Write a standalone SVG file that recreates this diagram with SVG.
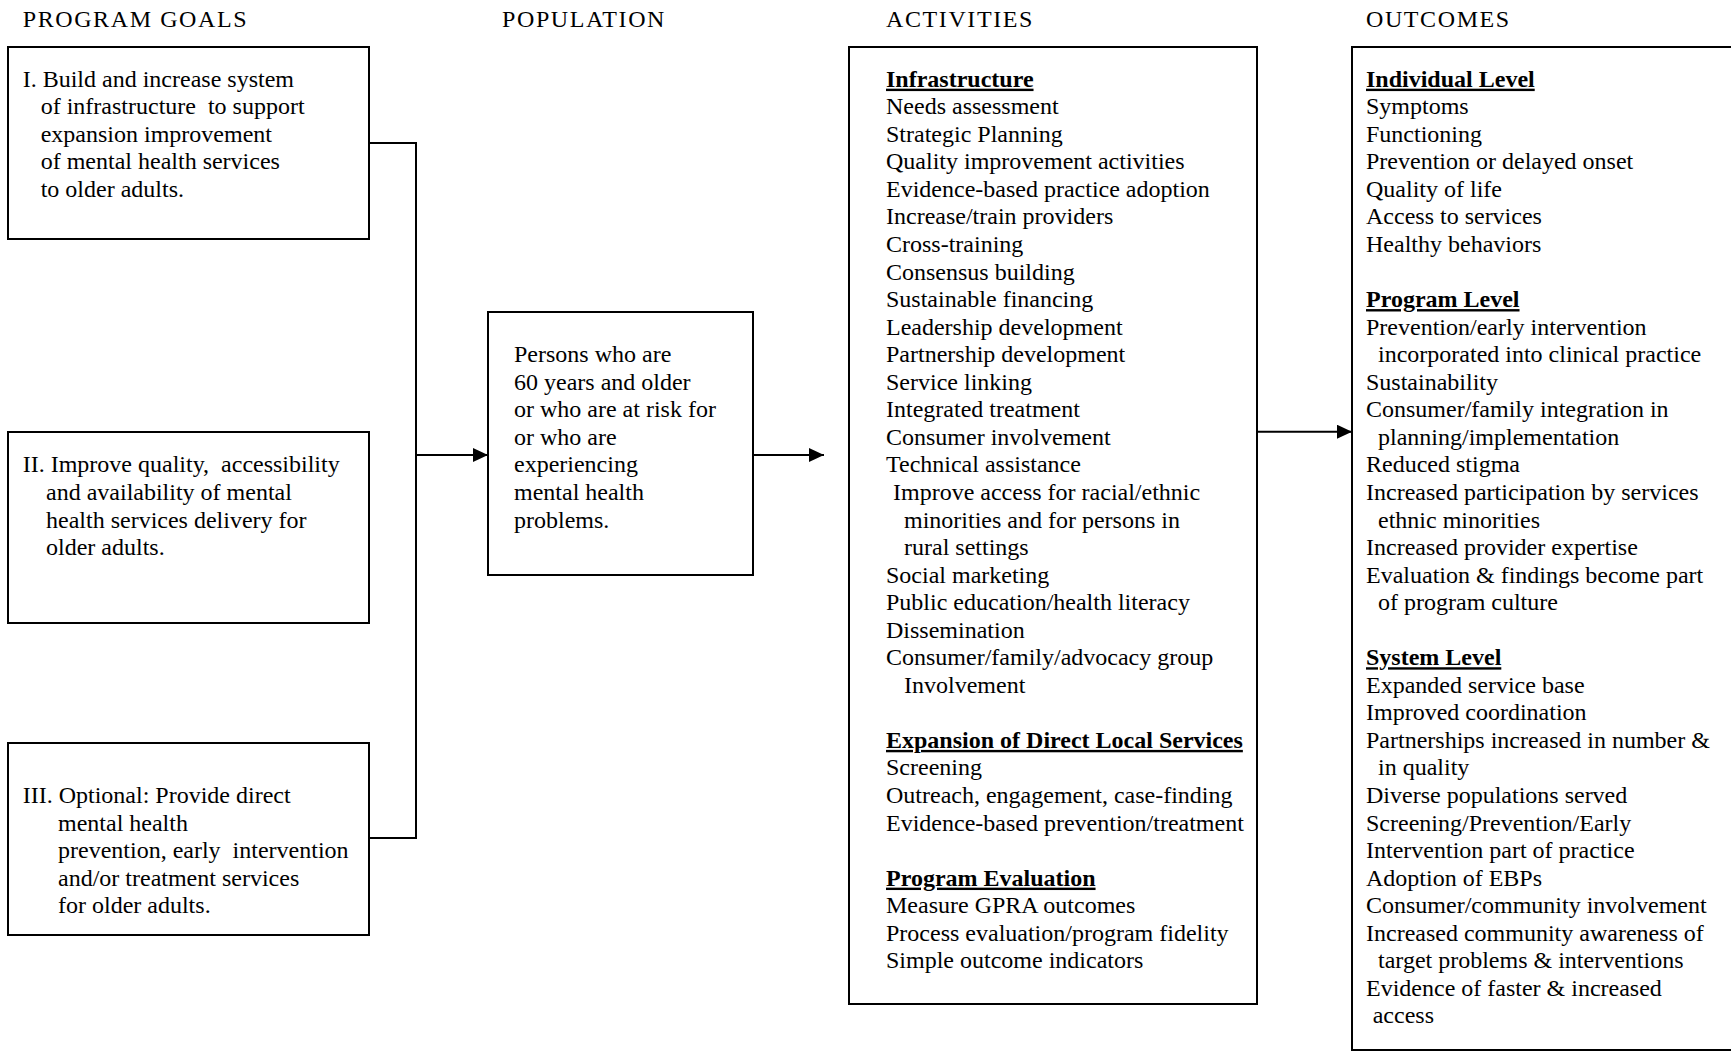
<svg xmlns="http://www.w3.org/2000/svg" width="1731" height="1052" viewBox="0 0 1731 1052">
<style>
text{font-family:"Liberation Serif","Times New Roman",serif;font-size:24px;fill:#000;white-space:pre}
.hd{letter-spacing:1.6px}
.box{fill:#fff;stroke:#000;stroke-width:2}
.h{font-weight:bold;text-decoration:underline}
.con{fill:none;stroke:#000;stroke-width:2}
</style>
<defs>
<marker id="arr" markerUnits="userSpaceOnUse" markerWidth="16" markerHeight="14" refX="15" refY="7" orient="auto">
<path d="M0,0 L15,7 L0,14 z" fill="#000"/>
</marker>
</defs>
<rect width="1731" height="1052" fill="#fff"/>
<g id="headers">
<text class="hd" x="22.7" y="27.3">PROGRAM GOALS</text>
<text class="hd" x="502" y="27.3">POPULATION</text>
<text class="hd" x="886" y="27.3">ACTIVITIES</text>
<text class="hd" x="1366" y="27.3">OUTCOMES</text>
</g>
<g id="connectors">
<path class="con" d="M369,143 H416 V838 H369"/>
<path class="con" d="M416,455 H488" marker-end="url(#arr)"/>
<path class="con" d="M753,455 H824" marker-end="url(#arr)"/>
<path class="con" d="M1257,431.7 H1352" marker-end="url(#arr)"/>
</g>
<g id="goal1">
<rect class="box" x="8" y="47" width="361" height="192"/>
<text x="22.7" y="86.7">I. Build and increase system</text>
<text x="40.7" y="114.25">of infrastructure  to support</text>
<text x="40.7" y="141.8">expansion improvement</text>
<text x="40.7" y="169.35">of mental health services</text>
<text x="40.7" y="196.9">to older adults.</text>
</g>
<g id="goal2">
<rect class="box" x="8" y="432" width="361" height="191"/>
<text x="22.7" y="472.4">II. Improve quality,  accessibility</text>
<text x="46" y="499.95">and availability of mental</text>
<text x="46" y="527.5">health services delivery for</text>
<text x="46" y="555.05">older adults.</text>
</g>
<g id="goal3">
<rect class="box" x="8" y="743" width="361" height="192"/>
<text x="22.7" y="803">III. Optional: Provide direct</text>
<text x="58" y="830.55">mental health</text>
<text x="58" y="858.1">prevention, early  intervention</text>
<text x="58" y="885.65">and/or treatment services</text>
<text x="58" y="913.2">for older adults.</text>
</g>
<g id="population">
<rect class="box" x="488" y="312" width="265" height="263"/>
<text x="514" y="362.2">Persons who are</text>
<text x="514" y="389.75">60 years and older</text>
<text x="514" y="417.3">or who are at risk for</text>
<text x="514" y="444.85">or who are</text>
<text x="514" y="472.4">experiencing</text>
<text x="514" y="499.95">mental health</text>
<text x="514" y="527.5">problems.</text>
</g>
<g id="activities">
<rect class="box" x="849" y="47" width="408" height="957"/>
<text class="h" x="886" y="86.7">Infrastructure</text>
<text x="886" y="114.25">Needs assessment</text>
<text x="886" y="141.8">Strategic Planning</text>
<text x="886" y="169.35">Quality improvement activities</text>
<text x="886" y="196.9">Evidence-based practice adoption</text>
<text x="886" y="224.45">Increase/train providers</text>
<text x="886" y="252">Cross-training</text>
<text x="886" y="279.55">Consensus building</text>
<text x="886" y="307.1">Sustainable financing</text>
<text x="886" y="334.65">Leadership development</text>
<text x="886" y="362.2">Partnership development</text>
<text x="886" y="389.75">Service linking</text>
<text x="886" y="417.3">Integrated treatment</text>
<text x="886" y="444.85">Consumer involvement</text>
<text x="886" y="472.4">Technical assistance</text>
<text x="893" y="499.95">Improve access for racial/ethnic</text>
<text x="904" y="527.5">minorities and for persons in</text>
<text x="904" y="555.05">rural settings</text>
<text x="886" y="582.6">Social marketing</text>
<text x="886" y="610.15">Public education/health literacy</text>
<text x="886" y="637.7">Dissemination</text>
<text x="886" y="665.25">Consumer/family/advocacy group</text>
<text x="904" y="692.8">Involvement</text>
<text class="h" x="886" y="747.9">Expansion of Direct Local Services</text>
<text x="886" y="775.45">Screening</text>
<text x="886" y="803">Outreach, engagement, case-finding</text>
<text x="886" y="830.55">Evidence-based prevention/treatment</text>
<text class="h" x="886" y="885.65">Program Evaluation</text>
<text x="886" y="913.2">Measure GPRA outcomes</text>
<text x="886" y="940.75">Process evaluation/program fidelity</text>
<text x="886" y="968.3">Simple outcome indicators</text>
</g>
<g id="outcomes">
<rect class="box" x="1352" y="47" width="420" height="1003"/>
<text class="h" x="1366" y="86.7">Individual Level</text>
<text x="1366" y="114.25">Symptoms</text>
<text x="1366" y="141.8">Functioning</text>
<text x="1366" y="169.35">Prevention or delayed onset</text>
<text x="1366" y="196.9">Quality of life</text>
<text x="1366" y="224.45">Access to services</text>
<text x="1366" y="252">Healthy behaviors</text>
<text class="h" x="1366" y="307.1">Program Level</text>
<text x="1366" y="334.65">Prevention/early intervention</text>
<text x="1378" y="362.2">incorporated into clinical practice</text>
<text x="1366" y="389.75">Sustainability</text>
<text x="1366" y="417.3">Consumer/family integration in</text>
<text x="1378" y="444.85">planning/implementation</text>
<text x="1366" y="472.4">Reduced stigma</text>
<text x="1366" y="499.95">Increased participation by services</text>
<text x="1378" y="527.5">ethnic minorities</text>
<text x="1366" y="555.05">Increased provider expertise</text>
<text x="1366" y="582.6">Evaluation &amp; findings become part</text>
<text x="1378" y="610.15">of program culture</text>
<text class="h" x="1366" y="665.25">System Level</text>
<text x="1366" y="692.8">Expanded service base</text>
<text x="1366" y="720.35">Improved coordination</text>
<text x="1366" y="747.9">Partnerships increased in number &amp;</text>
<text x="1378" y="775.45">in quality</text>
<text x="1366" y="803">Diverse populations served</text>
<text x="1366" y="830.55">Screening/Prevention/Early</text>
<text x="1366" y="858.1">Intervention part of practice</text>
<text x="1366" y="885.65">Adoption of EBPs</text>
<text x="1366" y="913.2">Consumer/community involvement</text>
<text x="1366" y="940.75">Increased community awareness of</text>
<text x="1378" y="968.3">target problems &amp; interventions</text>
<text x="1366" y="995.85">Evidence of faster &amp; increased</text>
<text x="1372.7" y="1023.4">access</text>
</g>
</svg>
